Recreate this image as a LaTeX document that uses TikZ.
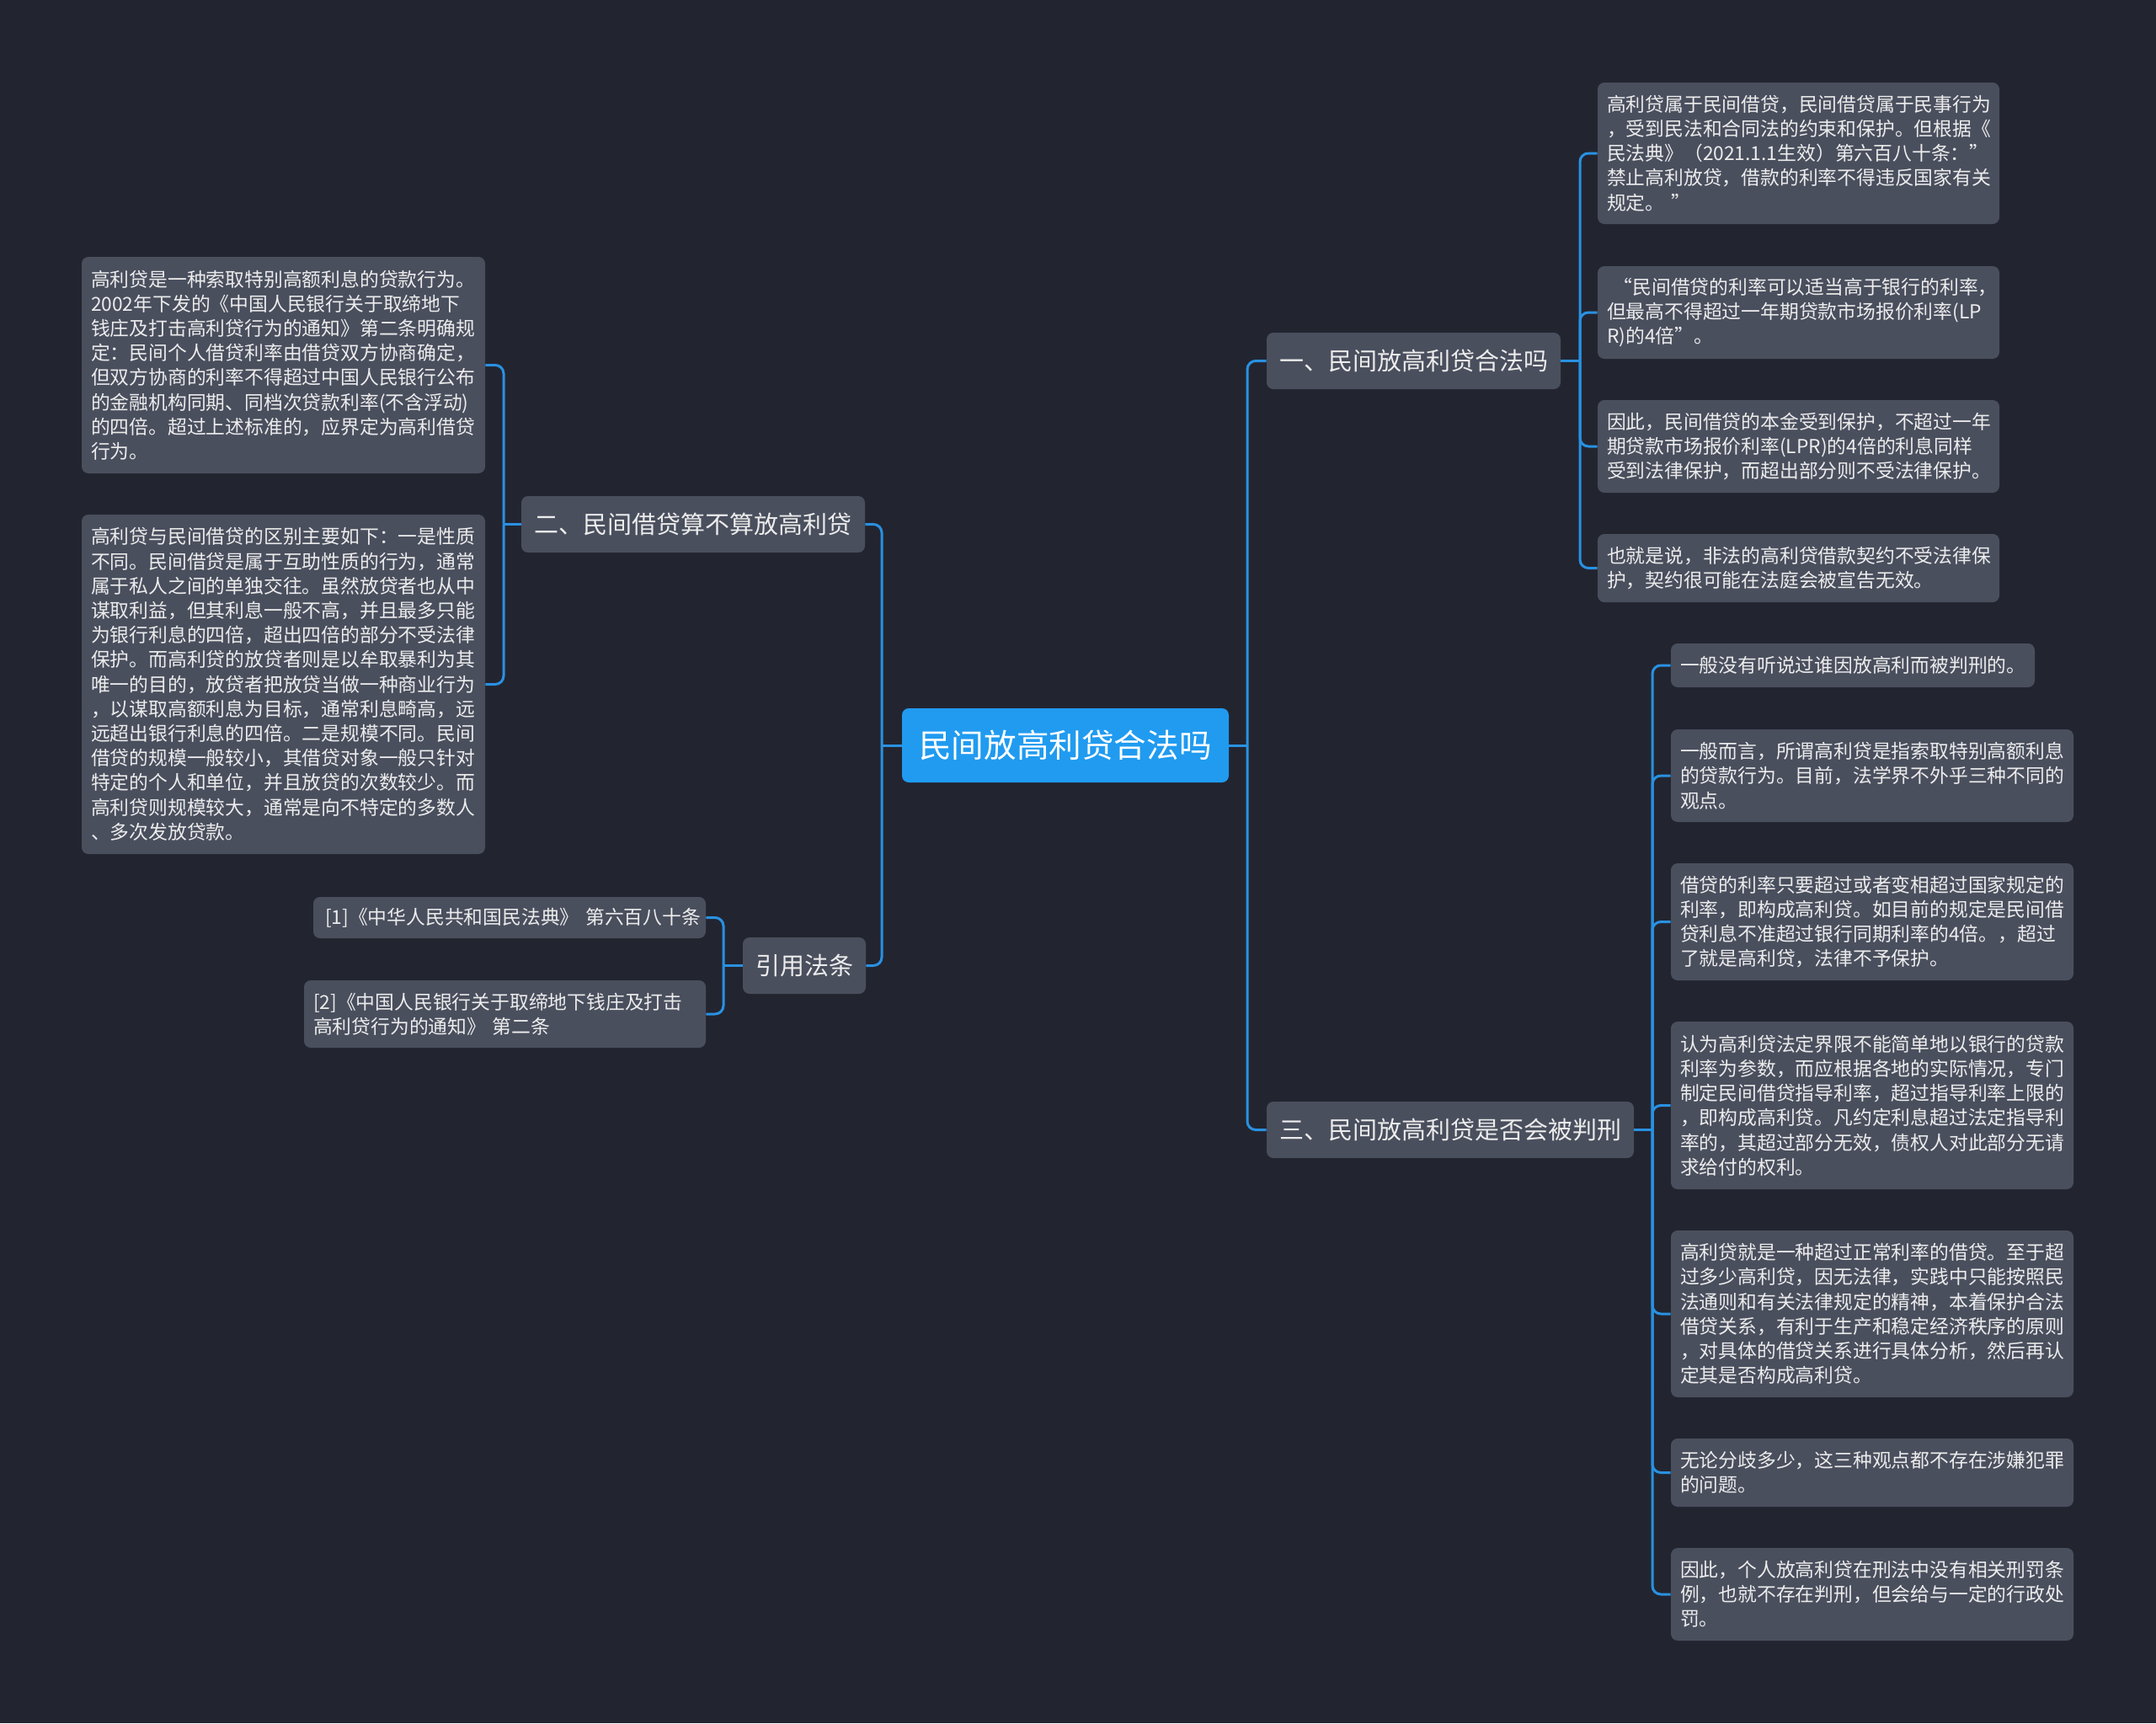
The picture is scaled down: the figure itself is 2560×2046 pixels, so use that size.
\documentclass[tikz,border=0pt]{standalone}
\usepackage{fontspec}
\setmainfont{Noto Sans CJK SC}
\definecolor{bgc}{RGB}{34,37,48}
\definecolor{nodefill}{RGB}{74,79,94}
\definecolor{linec}{RGB}{41,145,226}
\definecolor{rootc}{RGB}{32,155,240}
\definecolor{txtc}{RGB}{236,236,236}
\tikzset{
  leaf/.style={fill=nodefill, rounded corners=4pt, text=txtc, font=\fontsize{11.4}{14.6}\selectfont, align=left, inner xsep=5.5pt, inner ysep=0pt, anchor=center},
  branch/.style={fill=nodefill, rounded corners=4pt, text=txtc, font=\fontsize{14.5}{18}\selectfont, align=center, inner sep=0pt, minimum height=33.5pt, anchor=center},
  rootbox/.style={fill=rootc, rounded corners=4pt, text=white, font=\fontsize{19.3}{24}\selectfont, align=center, inner sep=0pt, minimum width=194pt, minimum height=44pt, anchor=center},
  conn/.style={draw=linec, line width=1.5pt, rounded corners=5pt}
}
\begin{document}
\begin{tikzpicture}[x=0.5pt,y=-0.5pt]
\fill[bgc] (0,0) rectangle (2560,2046);
\useasboundingbox (0,0) rectangle (2560,2046);

% root
\node[rootbox] (root) at (1265,885) {民间放高利贷合法吗};

% branches
\node[branch, minimum width=174.5pt] (b1) at (1678.5,428.5) {一、民间放高利贷合法吗};
\node[branch, minimum width=218pt] (b3) at (1722,1341.5) {三、民间放高利贷是否会被判刑};
\node[branch, minimum width=204pt] (b2) at (823,622.5) {二、民间借贷算不算放高利贷};
\node[branch, minimum width=73pt] (b4) at (955,1146.5) {引用法条};

% right leaves of b1
\node[leaf, text width=227.5pt, minimum height=84pt] (r1) at (2135.5,182) {高利贷属于民间借贷，民间借贷属于民事行为\\，受到民法和合同法的约束和保护。但根据《\\民法典》（2021.1.1生效）第六百八十条：”\\禁止高利放贷，借款的利率不得违反国家有关\\规定。~”};
\node[leaf, text width=227.5pt, minimum height=55pt] (r2) at (2135.5,371) {~“民间借贷的利率可以适当高于银行的利率，\\但最高不得超过一年期贷款市场报价利率(LP\\R)的4倍”。};
\node[leaf, text width=227.5pt, minimum height=55pt] (r3) at (2135.5,530) {因此，民间借贷的本金受到保护，不超过一年\\期贷款市场报价利率(LPR)的4倍的利息同样\\受到法律保护，而超出部分则不受法律保护。};
\node[leaf, text width=227.5pt, minimum height=40.5pt] (r4) at (2135.5,674.5) {也就是说，非法的高利贷借款契约不受法律保\\护，契约很可能在法庭会被宣告无效。};

% right leaves of b3
\node[leaf, text width=205pt, minimum height=26pt] (s1) at (2200,790) {一般没有听说过谁因放高利而被判刑的。};
\node[leaf, text width=228pt, minimum height=55pt] (s2) at (2223,921) {一般而言，所谓高利贷是指索取特别高额利息\\的贷款行为。目前，法学界不外乎三种不同的\\观点。};
\node[leaf, text width=228pt, minimum height=69.5pt] (s3) at (2223,1094.5) {借贷的利率只要超过或者变相超过国家规定的\\利率，即构成高利贷。如目前的规定是民间借\\贷利息不准超过银行同期利率的4倍。，超过\\了就是高利贷，法律不予保护。};
\node[leaf, text width=228pt, minimum height=99.5pt] (s4) at (2223,1312.5) {认为高利贷法定界限不能简单地以银行的贷款\\利率为参数，而应根据各地的实际情况，专门\\制定民间借贷指导利率，超过指导利率上限的\\，即构成高利贷。凡约定利息超过法定指导利\\率的，其超过部分无效，债权人对此部分无请\\求给付的权利。};
\node[leaf, text width=228pt, minimum height=99pt] (s5) at (2223,1560) {高利贷就是一种超过正常利率的借贷。至于超\\过多少高利贷，因无法律，实践中只能按照民\\法通则和有关法律规定的精神，本着保护合法\\借贷关系，有利于生产和稳定经济秩序的原则\\，对具体的借贷关系进行具体分析，然后再认\\定其是否构成高利贷。};
\node[leaf, text width=228pt, minimum height=40.5pt] (s6) at (2223,1748.5) {无论分歧多少，这三种观点都不存在涉嫌犯罪\\的问题。};
\node[leaf, text width=228pt, minimum height=55pt] (s7) at (2223,1893) {因此，个人放高利贷在刑法中没有相关刑罚条\\例，也就不存在判刑，但会给与一定的行政处\\罚。};

% left leaves of b2
\node[leaf, text width=228.5pt, minimum height=128.5pt] (l1) at (336.5,433.5) {高利贷是一种索取特别高额利息的贷款行为。\\2002年下发的《中国人民银行关于取缔地下\\钱庄及打击高利贷行为的通知》第二条明确规\\定：民间个人借贷利率由借贷双方协商确定，\\但双方协商的利率不得超过中国人民银行公布\\的金融机构同期、同档次贷款利率(不含浮动)\\的四倍。超过上述标准的，应界定为高利借贷\\行为。};
\node[leaf, text width=228.5pt, minimum height=201.5pt] (l2) at (336.5,812.5) {高利贷与民间借贷的区别主要如下：一是性质\\不同。民间借贷是属于互助性质的行为，通常\\属于私人之间的单独交往。虽然放贷者也从中\\谋取利益，但其利息一般不高，并且最多只能\\为银行利息的四倍，超出四倍的部分不受法律\\保护。而高利贷的放贷者则是以牟取暴利为其\\唯一的目的，放贷者把放贷当做一种商业行为\\，以谋取高额利息为目标，通常利息畸高，远\\远超出银行利息的四倍。二是规模不同。民间\\借贷的规模一般较小，其借贷对象一般只针对\\特定的个人和单位，并且放贷的次数较少。而\\高利贷则规模较大，通常是向不特定的多数人\\、多次发放贷款。};

% left leaves of b4
\node[leaf, text width=222pt, minimum height=24.5pt] (c1) at (605,1089.5) {\hspace*{1.5pt}[1]《中华人民共和国民法典》~第六百八十条};
\node[leaf, text width=227.5pt, minimum height=40pt] (c2) at (599.5,1204) {[2]《中国人民银行关于取缔地下钱庄及打击\\高利贷行为的通知》~第二条};

% junctions
\coordinate (jR) at (1481,885);
\coordinate (jL) at (1047,885);
\coordinate (j1) at (1876,428.5);
\coordinate (j3) at (1962,1341.5);
\coordinate (j2) at (598,622.5);
\coordinate (j4) at (859,1146.5);

% connectors root
\draw[conn] (root.east) -- (jR);
\draw[conn] (jR) |- (b1.west);
\draw[conn] (jR) |- (b3.west);
\draw[conn] (root.west) -- (jL);
\draw[conn] (jL) |- (b2.east);
\draw[conn] (jL) |- (b4.east);

% b1
\draw[conn] (b1.east) -- (j1);
\foreach \n in {r1,r2,r3,r4} \draw[conn] (j1) |- (\n.west);
% b3
\draw[conn] (b3.east) -- (j3);
\foreach \n in {s1,s2,s3,s4,s5,s6,s7} \draw[conn] (j3) |- (\n.west);
% b2
\draw[conn] (b2.west) -- (j2);
\foreach \n in {l1,l2} \draw[conn] (j2) |- (\n.east);
% b4
\draw[conn] (b4.west) -- (j4);
\foreach \n in {c1,c2} \draw[conn] (j4) |- (\n.east);
\end{tikzpicture}
\end{document}
